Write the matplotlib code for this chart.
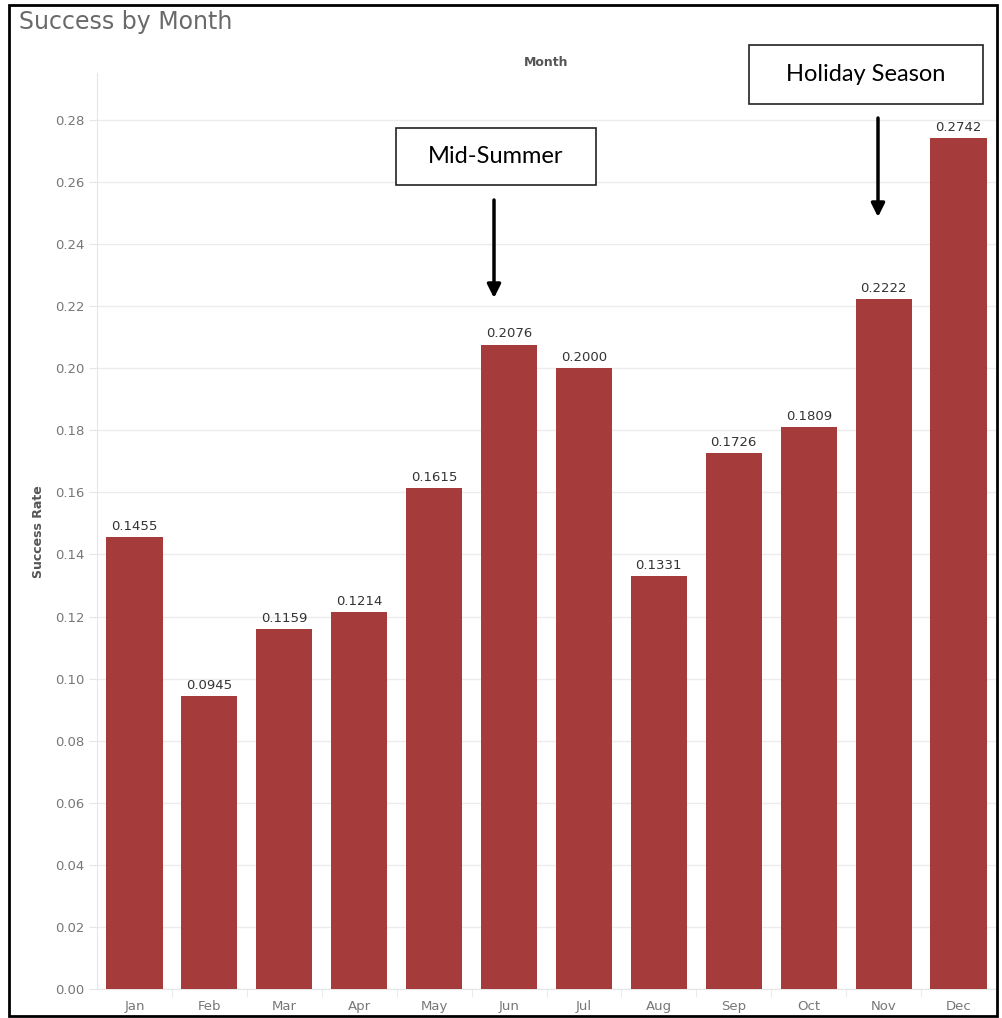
import matplotlib.pyplot as plt
from matplotlib.patches import Rectangle

months = ['Jan', 'Feb', 'Mar', 'Apr', 'May', 'Jun', 'Jul', 'Aug', 'Sep', 'Oct', 'Nov', 'Dec']
success_rate = [0.1455, 0.0945, 0.1159, 0.1214, 0.1615, 0.2076, 0.2000, 0.1331, 0.1726, 0.1809, 0.2222, 0.2742]
yticks = [0.00, 0.02, 0.04, 0.06, 0.08, 0.10, 0.12, 0.14, 0.16, 0.18, 0.20, 0.22, 0.24, 0.26, 0.28]

W, H = 1002, 1018
fig = plt.figure(figsize=(W / 100, H / 100), dpi=100)

# axes placed in pixel terms of the reference
ax = fig.add_axes([97 / W, (H - 989) / H, (996 - 97) / W, (989 - 73) / H])
x = range(len(months))
ax.bar(x, success_rate, width=0.75, color='#a63b3c', zorder=3)
ax.set_xlim(-0.5, len(months) - 0.5)
ax.set_ylim(0, 0.2951)

for i, v in enumerate(success_rate):
    ax.annotate('%.4f' % v, (i, v), xytext=(0, 3), textcoords='offset points',
                ha='center', va='bottom', fontsize=9.5, color='#333333')

ax.set_yticks(yticks)
ax.set_yticklabels(['%.2f' % t for t in yticks], fontsize=9.5, color='#777777')
ax.set_xticks(list(x))
ax.set_xticklabels(months, fontsize=9.5, color='#777777')
ax.tick_params(axis='y', length=6, color='#e6e6e6', pad=3)
ax.tick_params(axis='x', length=0, pad=8)
ax.set_xticks([i + 0.5 for i in range(len(months) - 1)], minor=True)
ax.tick_params(axis='x', which='minor', length=6, color='#e6e6e6')

ax.grid(axis='y', color='#ececec', linewidth=1, zorder=0)
for s in ['top', 'right']:
    ax.spines[s].set_visible(False)
ax.spines['left'].set_color('#e6e6e6')
ax.spines['bottom'].set_color('#e6e6e6')

fig.text(19 / W, 1 - 22 / H, 'Success by Month', fontsize=17, color='#6a6a6a',
         ha='left', va='center')
fig.text(546 / W, 1 - 62 / H, 'Month', fontsize=9, color='#555555', fontweight='bold',
         ha='center', va='center')
fig.text(38 / W, 1 - 532 / H, 'Success Rate', fontsize=9, color='#555555', fontweight='bold',
         rotation=90, ha='center', va='center')

# callout boxes
for label, (x0, y0, x1, y1), (ax0, ay0, ay1) in [
        ('Mid-Summer', (396, 128, 596, 185), (494, 200, 298)),
        ('Holiday Season', (749, 45, 983, 104), (878, 118, 217))]:
    fig.patches.append(Rectangle((x0 / W, 1 - y1 / H), (x1 - x0) / W, (y1 - y0) / H,
                                 transform=fig.transFigure, facecolor='white',
                                 edgecolor='#222222', linewidth=1.2, zorder=5))
    fig.text((x0 + x1) / 2 / W, 1 - (y0 + y1) / 2 / H, label, fontsize=17,
             family='Lato', color='black', ha='center', va='center', zorder=6)
    ax.annotate('', xy=(ax0 / W, 1 - ay1 / H), xytext=(ax0 / W, 1 - ay0 / H),
                xycoords='figure fraction', textcoords='figure fraction',
                arrowprops=dict(arrowstyle='-|>', color='black', lw=2.5,
                                mutation_scale=20, shrinkA=0, shrinkB=0),
                zorder=6, annotation_clip=False)

# outer frame
fig.patches.append(Rectangle((9 / W, 2 / H), (997 - 9) / W, (1013 - 2) / H,
                             transform=fig.transFigure, fill=False,
                             edgecolor='black', linewidth=2, zorder=10))

fig.savefig('out.png', dpi=100)
